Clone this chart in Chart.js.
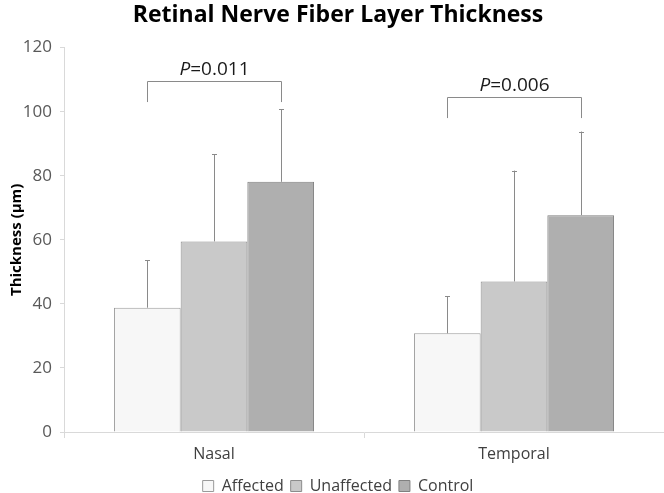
<!DOCTYPE html>
<html>
<head>
<meta charset="utf-8">
<script src="https://cdn.jsdelivr.net/npm/chart.js@4/dist/chart.umd.min.js"></script>
<style>
html,body{margin:0;padding:0;background:#fff;}
#wrap{width:664px;height:493px;position:relative;}
</style>
</head>
<body>
<div id="wrap"><canvas id="c" width="664" height="493"></canvas></div>
<script>
const categories = ["Nasal", "Temporal"];
const seriesNames = ["Affected", "Unaffected", "Control"];
const affected = [38.8, 30.8];
const unaffected = [59.5, 47.0];
const control = [78.1, 67.7];
const affectedErr = [14.8, 11.6];
const unaffectedErr = [27.2, 34.6];
const controlErr = [22.7, 26.1];
const yTicks = [0, 20, 40, 60, 80, 100, 120];
const pLabels = ["0.011", "0.006"];
const pBracketTop = [109.7, 104.7];
const pBracketBottom = [103.0, 98.0];

const FONT = "'Open Sans', 'Liberation Sans', sans-serif";
const fills = ["#f7f7f7", "#c9c9c9", "#afafaf"];
const borders = ["#9a9a9a", "#8c8c8c", "#808080"];
const values = [affected, unaffected, control];
const errs = [affectedErr, unaffectedErr, controlErr];

const errorBarPlugin = {
  id: 'errorBars',
  afterDatasetsDraw(chart) {
    const ctx = chart.ctx;
    const y = chart.scales.y;
    ctx.save();
    ctx.strokeStyle = '#8a8a8a';
    ctx.lineWidth = 1;
    chart.data.datasets.forEach((ds, di) => {
      const meta = chart.getDatasetMeta(di);
      meta.data.forEach((bar, i) => {
        const v = ds.data[i];
        const e = errs[di][i];
        const x = Math.round(bar.x) + 0.5;
        const yTop = y.getPixelForValue(v + e);
        const yBase = y.getPixelForValue(v);
        ctx.beginPath();
        ctx.moveTo(x, yBase);
        ctx.lineTo(x, yTop);
        ctx.moveTo(x - 2.5, Math.round(yTop) + 0.5);
        ctx.lineTo(x + 2.5, Math.round(yTop) + 0.5);
        ctx.stroke();
      });
    });
    // p-value brackets
    const m0 = chart.getDatasetMeta(0), m2 = chart.getDatasetMeta(2);
    categories.forEach((c, i) => {
      const xl = Math.round(m0.data[i].x) + 0.5;
      const xr = Math.round(m2.data[i].x) + 0.5;
      const yt = Math.round(y.getPixelForValue(pBracketTop[i])) + 0.5;
      const yb = y.getPixelForValue(pBracketBottom[i]);
      ctx.beginPath();
      ctx.strokeStyle = '#8a8a8a';
      ctx.moveTo(xl, yb);
      ctx.lineTo(xl, yt);
      ctx.lineTo(xr, yt);
      ctx.lineTo(xr, yb);
      ctx.stroke();
      const cx = (xl + xr) / 2;
      ctx.fillStyle = '#1a1a1a';
      ctx.textBaseline = 'alphabetic';
      const fItal = "italic 19px " + FONT;
      const fReg = "19px " + FONT;
      ctx.font = fItal;
      const wP = ctx.measureText("P").width;
      ctx.font = fReg;
      const rest = "=" + pLabels[i];
      const wR = ctx.measureText(rest).width;
      const x0 = cx - (wP + wR) / 2;
      const ty = yt - 7;
      ctx.font = fItal;
      ctx.textAlign = 'left';
      ctx.fillText("P", x0, ty);
      ctx.font = fReg;
      ctx.fillText(rest, x0 + wP, ty);
    });
    ctx.restore();
  }
};

new Chart(document.getElementById('c'), {
  type: 'bar',
  data: {
    labels: categories,
    datasets: seriesNames.map((n, k) => ({
      label: n,
      data: values[k],
      backgroundColor: fills[k],
      borderColor: borders[k],
      borderWidth: 1,
      borderSkipped: 'bottom',
      categoryPercentage: 0.667,
      barPercentage: 1.0
    }))
  },
  options: {
    responsive: false,
    animation: false,
    devicePixelRatio: 1,
    layout: { padding: { left: 8, right: -4, top: 0, bottom: -11 } },
    plugins: {
      title: {
        display: true,
        text: 'Retinal Nerve Fiber Layer Thickness',
        color: '#000',
        font: { family: FONT, size: 23, weight: 'bold' },
        padding: { top: 2, bottom: 18 }
      },
      legend: {
        position: 'bottom',
        labels: {
          color: '#404040',
          font: { family: FONT, size: 16 },
          boxWidth: 11,
          boxHeight: 11,
          padding: 7
        }
      },
      tooltip: { enabled: false }
    },
    scales: {
      x: {
        offset: true,
        afterFit(scale) { scale.height = 39; },
        grid: { display: true, drawOnChartArea: false, drawTicks: true, tickLength: 6, color: '#d9d9d9', offset: true },
        border: { color: '#d9d9d9' },
        ticks: { color: '#404040', font: { family: FONT, size: 16 }, padding: 7 }
      },
      y: {
        min: 0, max: 120,
        afterBuildTicks(scale) { scale.ticks = yTicks.map(v => ({ value: v })); },
        afterFit(scale) { scale.width = 56; },
        grid: { display: true, drawOnChartArea: false, drawTicks: true, tickLength: 4, color: '#d9d9d9' },
        border: { color: '#d9d9d9' },
        ticks: { color: '#595959', font: { family: FONT, size: 17 }, padding: 8 },
        title: {
          display: true,
          text: 'Thickness (µm)',
          color: '#000',
          font: { family: FONT, size: 15, weight: 'bold' },
          padding: { top: 0, bottom: 0 }
        }
      }
    }
  },
  plugins: [errorBarPlugin]
});
</script>
</body>
</html>
